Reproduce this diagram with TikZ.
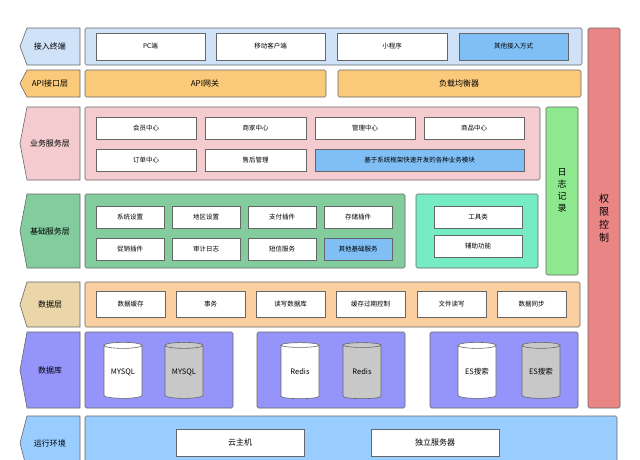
\documentclass[tikz,border=0pt]{standalone}
\usepackage{fontspec}
\setmainfont{Noto Sans CJK SC}
\usetikzlibrary{shapes.geometric}
\definecolor{cBlueL}{HTML}{CFE2F7}
\definecolor{cBlue}{HTML}{7FBFF5}
\definecolor{cOrange}{HTML}{FBC97A}
\definecolor{cPink}{HTML}{F4CCD0}
\definecolor{cGreen}{HTML}{82CC9E}
\definecolor{cTeal}{HTML}{76ECC4}
\definecolor{cLime}{HTML}{8EE88E}
\definecolor{cRed}{HTML}{EA8585}
\definecolor{cTan}{HTML}{EAD6A8}
\definecolor{cPeach}{HTML}{FBCF9F}
\definecolor{cPurple}{HTML}{9494FA}
\definecolor{cSky}{HTML}{99CCFF}
\definecolor{cGray}{HTML}{C8C8C8}
\begin{document}
\begin{tikzpicture}[x=1pt,y=-1pt,
  box/.style={draw=black!60,line width=0.6pt,rounded corners=1.5pt},
  itm/.style={draw=black!60,line width=0.6pt,fill=white,font=\fontsize{6.5}{7}\selectfont},
  cyl/.style={cylinder,shape border rotate=90,aspect=0.25,draw=black!60,line width=0.6pt,minimum width=38pt,minimum height=56pt,font=\fontsize{7.5}{8}\selectfont,inner sep=0pt}]
\useasboundingbox (0,0) rectangle (640,459);
% label pentagon
\newcommand{\lab}[5]{% name y1 y2 color text
  \fill[#4] (27,#2) -- (80,#2) -- (80,#3) -- (27,#3) -- (20,{(#2+#3)/2}) -- cycle;
  \draw[black!60,line width=0.6pt] (27,#2) -- (80,#2) -- (80,#3) -- (27,#3) -- (20,{(#2+#3)/2}) -- cycle;
  \node[font=\fontsize{8}{9}\selectfont] (#1) at (50,{(#2+#3)/2}) {#5};}
\newcommand{\itmbox}[6]{% name x1 y1 x2 y2 text
  \node[itm,minimum width={#4-#2},minimum height={#5-#3},inner sep=0pt] (#1) at ({(#2+#4)/2},{(#3+#5)/2}) {#6};}
% permission
\draw[box,fill=cRed] (588,28) rectangle (620,408);
\node[font=\fontsize{10}{13}\selectfont,align=center] (qx) at (604,218) {权\\限\\控\\制};
% row1
\lab{l1}{28}{65}{cBlueL}{接入终端}
\draw[box,fill=cBlueL] (85,28) rectangle (582,65);
\itmbox{a1}{96}{33}{205}{60}{PC端}
\itmbox{a2}{216}{33}{325}{60}{移动客户端}
\itmbox{a3}{337}{33}{447}{60}{小程序}
\node[itm,fill=cBlue,minimum width=109pt,minimum height=27pt,inner sep=0pt] (a4) at (513.5,46.5) {其他接入方式};
% row2
\lab{l2}{70}{97}{cOrange}{API接口层}
\draw[box,fill=cOrange] (85,70) rectangle (326,97);
\node[font=\fontsize{8}{9}\selectfont] (b1) at (205,83) {API网关};
\draw[box,fill=cOrange] (338,70) rectangle (581,97);
\node[font=\fontsize{8}{9}\selectfont] (b2) at (459,83) {负载均衡器};
% row3
\lab{l3}{107}{180}{cPink}{业务服务层}
\draw[box,fill=cPink] (85,107) rectangle (540,180);
\itmbox{c1}{96}{117}{196}{139}{会员中心}
\itmbox{c2}{205}{117}{306}{139}{商家中心}
\itmbox{c3}{315}{117}{415}{139}{管理中心}
\itmbox{c4}{424}{117}{524}{139}{商品中心}
\itmbox{c5}{96}{149}{196}{171}{订单中心}
\itmbox{c6}{205}{149}{306}{171}{售后管理}
\node[itm,fill=cBlue,minimum width=209pt,minimum height=22pt,inner sep=0pt] (c7) at (419.5,160) {基于系统框架快速开发的各种业务模块};
% log
\draw[box,fill=cLime] (546,107) rectangle (578,275);
\node[font=\fontsize{9}{12}\selectfont,align=center] (rz) at (562,190) {日\\志\\记\\录};
% row4
\lab{l4}{194}{268}{cGreen}{基础服务层}
\draw[box,fill=cGreen] (85,194) rectangle (405,268);
\itmbox{d1}{96}{206}{164}{228}{系统设置}
\itmbox{d2}{172}{206}{240}{228}{地区设置}
\itmbox{d3}{248}{206}{316}{228}{支付插件}
\itmbox{d4}{324}{206}{392}{228}{存储插件}
\itmbox{d5}{96}{238}{164}{260}{促销插件}
\itmbox{d6}{172}{238}{240}{260}{审计日志}
\itmbox{d7}{248}{238}{316}{260}{短信服务}
\node[itm,fill=cBlue,minimum width=68pt,minimum height=22pt,inner sep=0pt] (d8) at (358,249) {其他基础服务};
\draw[box,fill=cTeal] (416,194) rectangle (538,268);
\itmbox{e1}{434}{206}{522}{228}{工具类}
\itmbox{e2}{434}{235}{522}{257}{辅助功能}
% row5
\lab{l5}{282}{327}{cTan}{数据层}
\draw[box,fill=cPeach] (85,282) rectangle (580,327);
\itmbox{f1}{96}{291}{165}{317}{数据缓存}
\itmbox{f2}{176}{291}{245}{317}{事务}
\itmbox{f3}{256}{291}{325}{317}{读写数据库}
\itmbox{f4}{336}{291}{405}{317}{缓存过期控制}
\itmbox{f5}{417}{291}{486}{317}{文件读写}
\itmbox{f6}{497}{291}{566}{317}{数据同步}
% row6
\lab{l6}{332}{408}{cPurple}{数据库}
\draw[box,fill=cPurple] (85,332) rectangle (233,408);
\draw[box,fill=cPurple] (257,332) rectangle (405,408);
\draw[box,fill=cPurple] (430,332) rectangle (578,408);
\node[cyl,fill=white] (g1) at (123,372) {MYSQL};
\node[cyl,fill=cGray] (g2) at (184,372) {MYSQL};
\node[cyl,fill=white] (g3) at (300,372) {Redis};
\node[cyl,fill=cGray] (g4) at (362,372) {Redis};
\node[cyl,fill=white] (g5) at (477,372) {ES搜索};
\node[cyl,fill=cGray] (g6) at (541,372) {ES搜索};
% row7
\lab{l7}{416}{470}{cSky}{运行环境}
\draw[box,fill=cSky] (85,416) rectangle (617,470);
\itmbox{h1}{176}{429}{304}{456}{\fontsize{8}{9}\selectfont 云主机}
\itmbox{h2}{371}{429}{499}{456}{\fontsize{8}{9}\selectfont 独立服务器}
\end{tikzpicture}
\end{document}
